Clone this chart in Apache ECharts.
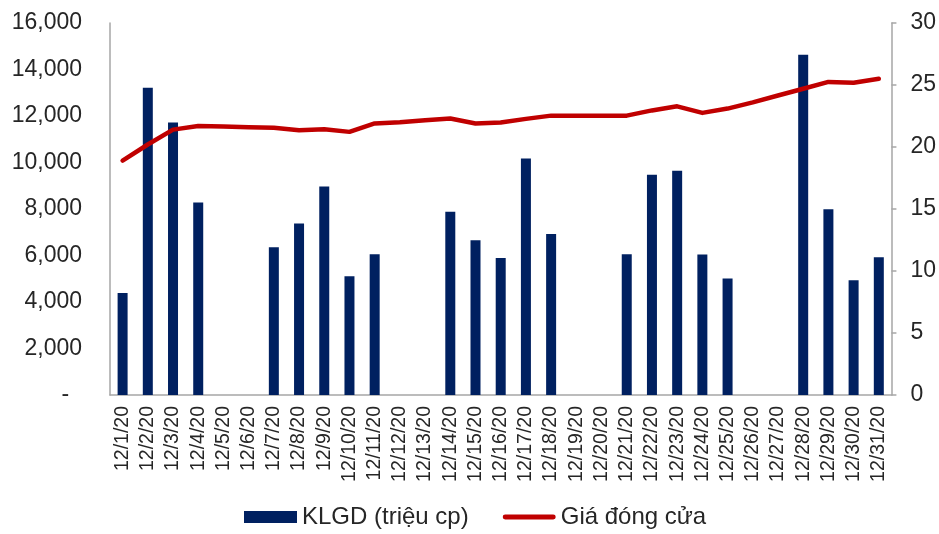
<!DOCTYPE html>
<html>
<head>
<meta charset="utf-8">
<script src="https://cdn.jsdelivr.net/npm/echarts@6/dist/echarts.min.js"></script>
<style>
html,body{margin:0;padding:0;background:#fff;}
#chart{width:939px;height:534px;}
</style>
</head>
<body>
<div id="chart"></div>
<script>
const categories = ['12/1/20','12/2/20','12/3/20','12/4/20','12/5/20','12/6/20','12/7/20','12/8/20','12/9/20','12/10/20','12/11/20','12/12/20','12/13/20','12/14/20','12/15/20','12/16/20','12/17/20','12/18/20','12/19/20','12/20/20','12/21/20','12/22/20','12/23/20','12/24/20','12/25/20','12/26/20','12/27/20','12/28/20','12/29/20','12/30/20','12/31/20'];
const volume = [4390,13220,11720,8280,0,0,6350,7380,8970,5110,6050,0,0,7880,6660,5890,10170,6920,0,0,6050,9470,9640,6040,5010,0,0,14630,7990,4940,5920];
const closePrice = [18.9,20.2,21.4,21.7,21.65,21.6,21.55,21.35,21.43,21.22,21.9,22.0,22.15,22.3,21.9,21.97,22.27,22.53,22.53,22.53,22.53,22.95,23.28,22.75,23.1,23.6,24.15,24.7,25.25,25.18,25.5];
const leftTicks = {min: 0, max: 16000, interval: 2000};
const rightTicks = {min: 0, max: 30, interval: 5};
const seriesNames = ['KLGD (triệu cp)', 'Giá đóng cửa'];

const chart = echarts.init(document.getElementById('chart'), null, {renderer: 'canvas'});
const font = 'Liberation Sans, Arial, sans-serif';
const axisGray = '#a6a6a6';
const textColor = '#262626';

chart.setOption({
  animation: false,
  backgroundColor: '#fff',
  grid: {left: 110, right: 47, top: 23, bottom: 139, containLabel: false},
  legend: {
    left: 244, top: 505, padding: 0,
    itemWidth: 53, itemHeight: 12, itemGap: 34,
    textStyle: {fontFamily: font, fontSize: 24, color: textColor},
    data: [
      {name: seriesNames[0], icon: 'rect'},
      {name: seriesNames[1], icon: 'path://M2.5,0H51.5A2.5,2.5,0,0,1,51.5,5H2.5A2.5,2.5,0,0,1,2.5,0Z'}
    ]
  },
  xAxis: {
    type: 'category',
    data: categories,
    boundaryGap: true,
    axisLine: {show: true, lineStyle: {color: axisGray, width: 1.5}},
    axisTick: {show: false},
    axisLabel: {rotate: 90, interval: 0, margin: 11, fontFamily: font, fontSize: 19.5, color: textColor}
  },
  yAxis: [
    {
      type: 'value', min: leftTicks.min, max: leftTicks.max, interval: leftTicks.interval,
      axisLine: {show: true, lineStyle: {color: axisGray, width: 1.5}},
      axisTick: {show: false},
      splitLine: {show: false},
      axisLabel: {
        margin: 28, fontFamily: font, fontSize: 23, color: textColor,
        formatter: v => v === 0 ? '-  ' : v.toLocaleString('en-US')
      }
    },
    {
      type: 'value', min: rightTicks.min, max: rightTicks.max, interval: rightTicks.interval,
      position: 'right',
      axisLine: {show: true, lineStyle: {color: axisGray, width: 1.5}},
      axisTick: {show: true, inside: false, length: 5, lineStyle: {color: axisGray, width: 1.5}},
      splitLine: {show: false},
      axisLabel: {margin: 19, fontFamily: font, fontSize: 23, color: textColor}
    }
  ],
  series: [
    {
      name: seriesNames[0], type: 'bar', yAxisIndex: 0,
      data: volume, barWidth: 10,
      itemStyle: {color: '#002060'}
    },
    {
      name: seriesNames[1], type: 'line', yAxisIndex: 1,
      data: closePrice, showSymbol: false, symbol: 'none',
      lineStyle: {color: '#C00000', width: 4.5, cap: 'round', join: 'round'},
      itemStyle: {color: '#C00000'}
    }
  ]
});
</script>
</body>
</html>
